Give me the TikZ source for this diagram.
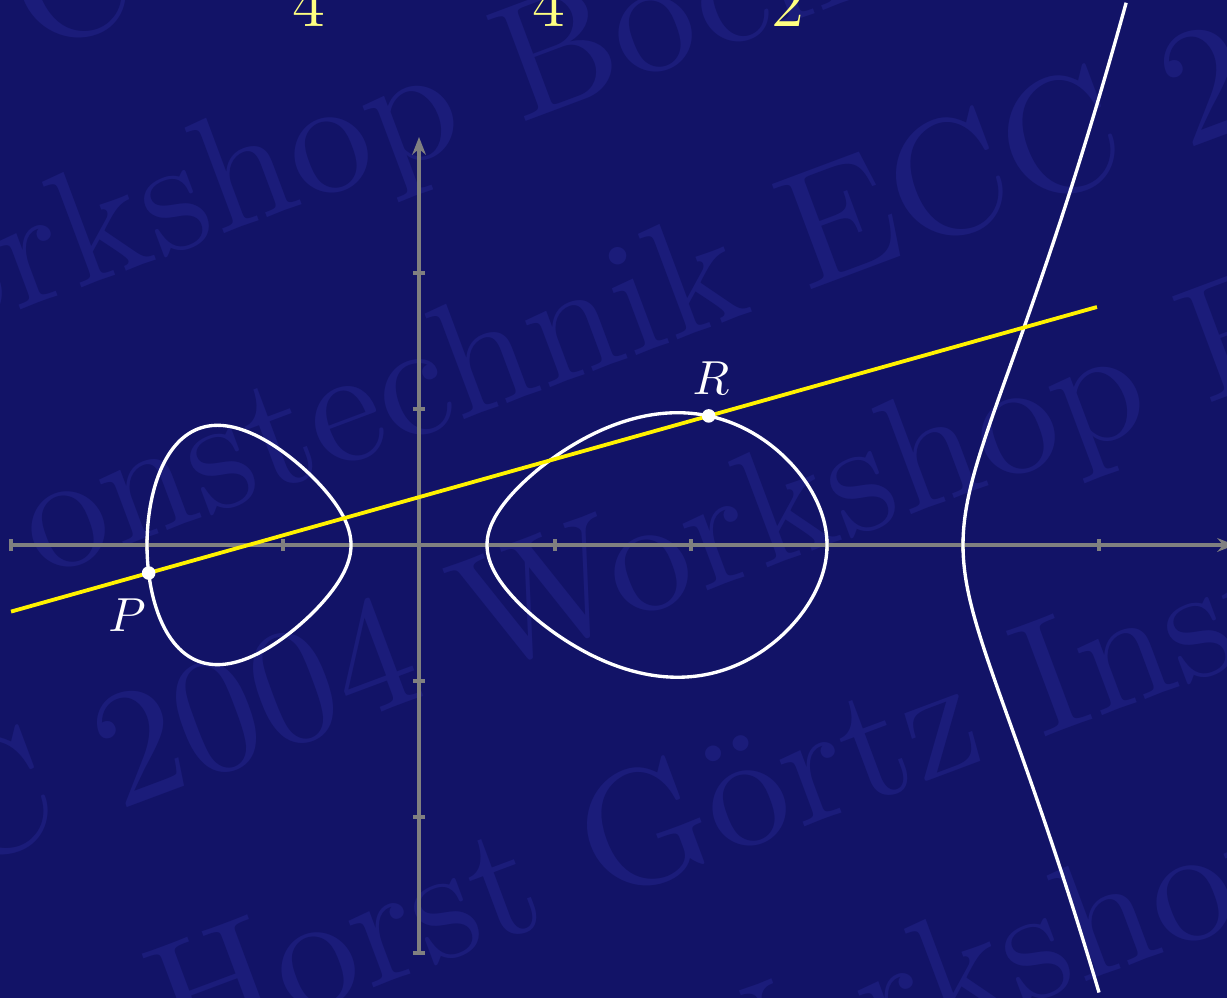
\documentclass[tikz,border=0pt]{standalone}
\usetikzlibrary{arrows.meta,calc}
\definecolor{bgblue}{RGB}{18,19,103}
\definecolor{wmblue}{RGB}{27,28,122}
\definecolor{axgray}{RGB}{128,128,128}
\definecolor{digyellow}{RGB}{255,255,128}
\begin{document}
\begin{tikzpicture}[
  wm/.style={text=wmblue, font=\fontsize{10}{12}\selectfont, scale=3.45, rotate=20.5, anchor=base west, inner sep=0pt},
  curve/.style={white, line width=0.7pt},
  axis/.style={axgray, line width=0.7pt},
  axarrow/.style={axis, -{Stealth[length=1.3mm,width=1mm]}},
  secant/.style={yellow, line width=0.8pt},
  ptdot/.style={circle, fill=white, inner sep=0pt, minimum size=0.1cm},
  ptlabel/.style={text=white, font=\fontsize{10}{12}\selectfont},
  digit/.style={text=digyellow, font=\fontsize{14}{16}\selectfont, anchor=base},
]
\path[use as bounding box, fill=bgblue] (-3.081,-3.331) rectangle (5.941,4.007);
\clip (-3.081,-3.331) rectangle (5.941,4.007);

% watermark
\node[wm] (wm0) at (-2.850,3.599) {C 2004 Workshop Bochum};
\node[wm] (wmA) at (-4.621,1.093) {\llap{ECC 2004 }Workshop Bochum};
\node[wm] (wmB) at (-2.793,-0.249) {onstechnik ECC 2004 Workshop};
\node[wm] (wmC) at (-3.422,-2.408) {\llap{EC}C 2004 Workshop Bochum};
\node[wm] (wmD) at (-1.808,-3.807) {Horst Görtz Institut};
\node[wm] (wmE) at (1.714,-4.405) {\llap{ECC 2004 }Workshop Bochum};

% top digits
\node[digit] (d1) at (-0.809,3.809) {4};
\node[digit] (d2) at (0.956,3.809) {4};
\node[digit] (d3) at (2.713,3.809) {2};

% axes
\draw[axarrow] (-3,0) -- (6,0);
\draw[axarrow] (0,-3) -- (0,3);
\foreach \x in {-3,-2,-1,1,2,3,4,5} \draw[axis] (\x,-0.045) -- (\x,0.045);
\foreach \y in {-3,-2,-1,1,2} \draw[axis] (-0.045,\y) -- (0.045,\y);

% curve y^2 = (x+2)(x+1/2)(x-1/2)(x-3)(x-4)/32
\draw[curve] plot[domain=0:360, samples=241, variable=\t]
  ({-1.25-0.75*cos(\t)}, {0.75*sin(\t)*sqrt((1.75+0.75*cos(\t))*(4.25+0.75*cos(\t))*(5.25+0.75*cos(\t))/32)}) -- cycle;
\draw[curve] plot[domain=0:360, samples=241, variable=\t]
  ({1.75-1.25*cos(\t)}, {1.25*sin(\t)*sqrt((3.75-1.25*cos(\t))*(2.25-1.25*cos(\t))*(2.25+1.25*cos(\t))/32)}) -- cycle;
\draw[curve] plot[domain=-1:1.0954, samples=200, variable=\u]
  ({4+\u*\u}, {\u*sqrt((6+\u*\u)*(4.5+\u*\u)*(3.5+\u*\u)*(1+\u*\u)/32)});

% secant line through P and R
\coordinate (P) at (-1.9877,-0.206);
\coordinate (R) at (2.13,0.949);
\coordinate (Lstart) at ($(P)!-0.2458!(R)$);
\coordinate (Lend) at ($(P)!1.6933!(R)$);
\draw[secant] (Lstart) -- (Lend);
\node[ptdot] (dotP) at (P) {};
\node[ptdot] (dotR) at (R) {};
\node[ptlabel] (lblP) at (-2.147,-0.515) {$P$};
\node[ptlabel] (lblR) at (2.147,1.228) {$R$};
\end{tikzpicture}
\end{document}
